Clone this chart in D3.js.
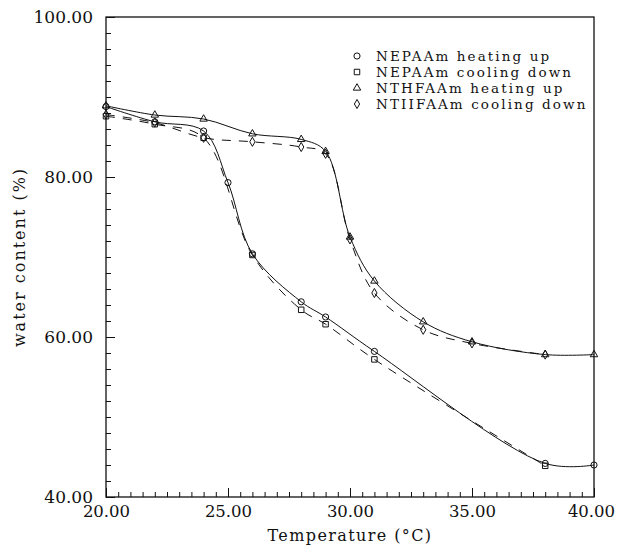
<html>
<head>
  <script src="https://cdn.jsdelivr.net/npm/d3@7"></script>
  <style>
    body { margin: 0; background: #fff; }
    text { font-family: "DejaVu Serif", "Liberation Serif", serif; fill: #111; }
  </style>
</head>
<body>
<script>
  // data
  const tempHeatA = [20, 22, 24, 25, 26, 28, 29, 31, 38, 40];
  const nepaamHeat = [88.8, 86.9, 85.75, 79.3, 70.4, 64.4, 62.5, 58.2, 44.2, 44.0];
  const tempCoolA = [20, 22, 24, 26, 28, 29, 31, 38];
  const nepaamCool = [87.6, 86.6, 84.9, 70.25, 63.4, 61.6, 57.2, 43.9];
  const tempHeatB = [20, 22, 24, 26, 28, 29, 30, 31, 33, 35, 38, 40];
  const nthfaamHeat = [88.9, 87.75, 87.25, 85.4, 84.7, 83.2, 72.5, 67.0, 61.9, 59.4, 57.8, 57.8];
  const tempCoolB = [20, 22, 24, 26, 28, 29, 30, 31, 33, 35, 38];
  const nthfaamCool = [87.8, 86.8, 84.9, 84.4, 83.75, 82.9, 72.2, 65.5, 60.9, 59.2, 57.8];

  const legendNames = ["NEPAAm heating up", "NEPAAm cooling down", "NTHFAAm heating up", "NTIIFAAm cooling down"];
  const xTicks = [20, 25, 30, 35, 40];
  const yTicks = [40, 60, 80, 100];

  const w = 617, h = 546;
  const m = { left: 106, top: 17, right: 23, bottom: 49 };

  const svg = d3.select("body").append("svg")
    .attr("width", w)
    .attr("height", h);

  const x = d3.scaleLinear().domain([20, 40]).range([m.left, w - m.right]);
  const y = d3.scaleLinear().domain([40, 100]).range([h - m.bottom, m.top]);

  // frame
  svg.append("rect")
    .attr("x", x(20)).attr("y", y(100))
    .attr("width", x(40) - x(20)).attr("height", y(40) - y(100))
    .attr("fill", "none").attr("stroke", "#111").attr("stroke-width", 1.3);

  // x minor and major ticks (inside)
  svg.append("g")
    .attr("transform", "translate(0," + y(40) + ")")
    .call(d3.axisBottom(x).tickValues(d3.range(20, 40.01, 0.5)).tickSize(-5).tickFormat(""));
  const xMajor = svg.append("g")
    .attr("transform", "translate(0," + y(40) + ")")
    .call(d3.axisBottom(x).tickValues(xTicks).tickSize(-9).tickPadding(8)
      .tickFormat(d3.format(".2f")));
  xMajor.selectAll("text").attr("font-size", 16.5).attr("font-family", "DejaVu Serif").attr("fill", "#111");
  // last label squeezed against the right edge, like the original
  xMajor.selectAll("text").filter(d => d === 40).attr("dx", -3);

  svg.append("g")
    .attr("transform", "translate(" + x(20) + ",0)")
    .call(d3.axisLeft(y).tickValues(d3.range(40, 100.01, 2)).tickSize(-5).tickFormat(""));
  const yMajor = svg.append("g")
    .attr("transform", "translate(" + x(20) + ",0)")
    .call(d3.axisLeft(y).tickValues(yTicks).tickSize(-9).tickPadding(13)
      .tickFormat(d3.format(".2f")));
  yMajor.selectAll("text").attr("font-size", 17).attr("font-family", "DejaVu Serif").attr("fill", "#111");

  svg.selectAll(".domain").remove();
  svg.selectAll(".tick line").attr("stroke", "#111");

  // axis titles
  svg.append("text")
    .attr("x", (x(20) + x(40)) / 2).attr("y", 541)
    .attr("text-anchor", "middle").attr("font-size", 16)
    .attr("letter-spacing", 1.4)
    .text("Temperature (°C)");
  svg.append("text")
    .attr("transform", "translate(25," + (y(70)) + ") rotate(-90)")
    .attr("text-anchor", "middle").attr("font-size", 16)
    .attr("letter-spacing", 2)
    .text("water content (%)");

  // curves
  const series = [
    { t: tempHeatA, v: nepaamHeat, dash: null, shape: "circle" },
    { t: tempCoolA, v: nepaamCool, dash: "9,8", shape: "square" },
    { t: tempHeatB, v: nthfaamHeat, dash: null, shape: "triangle" },
    { t: tempCoolB, v: nthfaamCool, dash: "9,8", shape: "diamond" }
  ];

  const line = d3.line()
    .x(d => x(d[0]))
    .y(d => y(d[1]))
    .curve(d3.curveCatmullRom.alpha(0.5));

  const symbolFor = {
    circle: d3.symbol().type(d3.symbolCircle).size(30),
    square: d3.symbol().type(d3.symbolSquare).size(30),
    triangle: d3.symbol().type(d3.symbolTriangle).size(24),
    diamond: d3.symbol().type(d3.symbolDiamond).size(24)
  };

  series.forEach(function(s) {
    const pts = s.t.map((t, i) => [t, s.v[i]]);
    svg.append("path")
      .attr("d", line(pts))
      .attr("fill", "none")
      .attr("stroke", "#111")
      .attr("stroke-width", 1)
      .attr("stroke-dasharray", s.dash);

    svg.selectAll(null)
      .data(pts)
      .enter()
      .append("path")
      .attr("d", symbolFor[s.shape])
      .attr("transform", d => "translate(" + x(d[0]) + "," + y(d[1]) + ")")
      .attr("fill", "none")
      .attr("stroke", "#111")
      .attr("stroke-width", 1);
  });

  // legend
  const legend = svg.append("g").attr("transform", "translate(357,56)");
  legendNames.forEach(function(name, i) {
    legend.append("path")
      .attr("d", symbolFor[series[i].shape])
      .attr("transform", "translate(0," + (i * 16) + ")")
      .attr("fill", "none").attr("stroke", "#111");
    legend.append("text")
      .attr("x", 19).attr("y", i * 16 + 5)
      .attr("font-size", 13.5)
      .attr("letter-spacing", 2.1)
      .text(name);
  });
</script>
</body>
</html>
